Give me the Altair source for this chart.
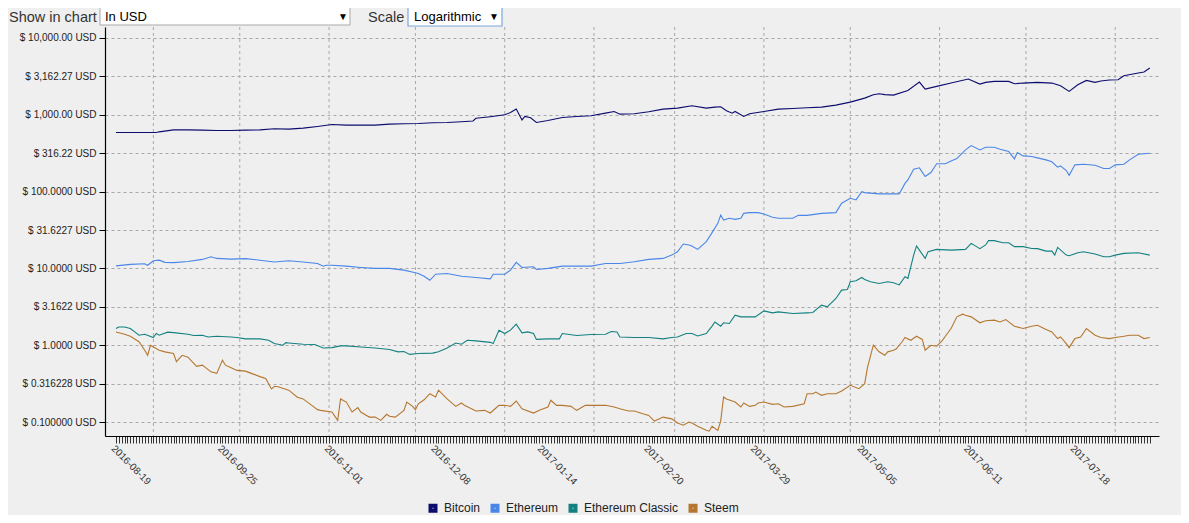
import json
import altair as alt
import pandas as pd

START = "2016-08-19"
coins = ["Bitcoin", "Ethereum", "Ethereum Classic", "Steem"]
colors = ["#0c0c6e", "#4a86e8", "#138181", "#b5772f"]

btc_day = [0, 5, 10, 14, 15, 20, 25, 30, 35, 40, 45, 50, 55, 60, 65, 70, 75, 80, 85, 90, 95, 100, 105, 110,
           115, 120, 124, 125, 130, 135, 137, 139, 141, 142, 144, 146, 150, 155, 160, 165, 170, 173, 175, 180,
           185, 190, 195, 200, 205, 208, 210, 212, 214, 215, 218, 220, 225, 230, 235, 240, 245, 250, 255, 260,
           263, 265, 267, 270, 275, 279, 281, 285, 290, 296, 300, 302, 305, 310, 312, 315, 320, 325, 328, 331,
           334, 337, 340, 342, 345, 348, 350, 355, 357, 359]
btc_usd = [589, 589, 589, 589, 600, 637, 637, 631, 625, 625, 631, 637, 657, 650, 670, 705, 748, 733, 733, 733,
           756, 765, 771, 787, 795, 811, 830, 900, 945, 1000, 1070, 1186, 857, 951, 915, 795, 844, 923, 951, 970,
           1051, 1105, 1020, 1030, 1094, 1186, 1222, 1310, 1222, 1259, 1270, 1127, 1051, 1105, 951, 1030, 1105,
           1186, 1210, 1233, 1259, 1336, 1463, 1649, 1824, 1879, 1830, 1806, 2075, 2669, 2161, 2343, 2588, 2918,
           2512, 2643, 2722, 2722, 2535, 2588, 2643, 2588, 2389, 2015, 2461, 2804, 2643, 2750, 2834, 2862, 3228,
           3492, 3600, 4060]

eth_day = [0, 5, 10, 11, 13, 15, 17, 20, 25, 30, 33, 35, 40, 45, 50, 55, 60, 65, 70, 72, 73, 75, 80, 85, 90, 95,
           100, 104, 105, 107, 109, 111, 115, 120, 125, 130, 131, 135, 137, 139, 141, 145, 146, 150, 155, 160, 165,
           170, 175, 180, 185, 190, 193, 195, 197, 199, 200, 202, 205, 207, 209, 210, 211, 213, 215, 217, 218, 220,
           223, 225, 228, 230, 235, 237, 240, 245, 250, 252, 255, 257, 259, 260, 265, 270, 272, 274, 275, 277, 279,
           281, 283, 285, 288, 290, 292, 295, 297, 300, 302, 305, 307, 310, 312, 313, 315, 318, 320, 323, 325, 327,
           328, 330, 331, 333, 336, 340, 343, 345, 347, 350, 352, 355, 359]
eth_usd = [10.8, 11.3, 11.5, 11.0, 12.6, 12.8, 12.0, 11.9, 12.3, 13.1, 14.2, 13.5, 13.2, 13.4, 12.8, 12.1, 12.6,
           12.1, 11.6, 10.7, 11.0, 11.0, 10.7, 10.3, 10.0, 10.0, 9.5, 8.8, 8.6, 7.9, 7.0, 8.4, 8.6, 7.9, 7.6, 7.3,
           8.4, 8.4, 9.5, 12.0, 10.3, 10.5, 9.7, 10.0, 10.7, 10.7, 10.7, 11.6, 11.6, 12.2, 13.1, 13.5, 14.9, 16.5,
           20.8, 20.2, 19.6, 17.7, 22.3, 29.2, 38.6, 49.6, 42.7, 44.9, 43.5, 44.9, 52.1, 53.2, 53.2, 51.2, 46.3,
           44.9, 44.9, 49.1, 49.1, 52.1, 53.2, 70.5, 81.9, 77.9, 100, 97, 93.3, 93.3, 93.3, 128, 142, 196, 204, 157,
           177, 230, 230, 251, 269, 349, 398, 349, 378, 378, 356, 332, 267, 323, 292, 286, 275, 259, 244, 208, 216,
           188, 163, 223, 227, 220, 200, 200, 223, 227, 259, 307, 316]

etc_day = [0, 1, 3, 5, 7, 8, 10, 13, 14, 15, 18, 20, 25, 27, 30, 32, 35, 40, 42, 45, 50, 53, 55, 58, 59, 60, 65,
           69, 72, 75, 78, 80, 85, 90, 95, 98, 100, 102, 105, 110, 112, 115, 118, 120, 122, 125, 130, 131, 133, 135,
           137, 139, 141, 143, 145, 146, 150, 154, 155, 160, 165, 170, 172, 174, 175, 180, 185, 190, 193, 195, 198,
           200, 202, 205, 207, 208, 210, 211, 213, 215, 217, 220, 222, 225, 228, 230, 235, 240, 242, 245, 247, 250,
           252, 254, 255, 257, 259, 260, 262, 265, 268, 270, 272, 274, 275, 276, 277, 278, 279, 281, 282, 285, 290,
           295, 297, 300, 302, 303, 305, 308, 310, 312, 315, 318, 320, 323, 325, 326, 327, 330, 331, 334, 336, 340,
           343, 345, 347, 350, 355, 359]
etc_usd = [1.65, 1.73, 1.73, 1.65, 1.45, 1.35, 1.39, 1.26, 1.42, 1.35, 1.48, 1.46, 1.39, 1.34, 1.35, 1.28, 1.31,
           1.28, 1.26, 1.21, 1.21, 1.16, 1.05, 1.0, 1.08, 1.07, 1.03, 1.02, 0.92, 0.93, 0.98, 0.98, 0.95, 0.92,
           0.88, 0.82, 0.83, 0.76, 0.78, 0.79, 0.82, 0.92, 1.07, 1.03, 1.16, 1.14, 1.09, 1.05, 1.57, 1.42, 1.57,
           1.88, 1.45, 1.49, 1.42, 1.19, 1.21, 1.21, 1.42, 1.34, 1.38, 1.39, 1.51, 1.49, 1.28, 1.26, 1.26, 1.21,
           1.26, 1.28, 1.42, 1.42, 1.32, 1.42, 1.77, 2.01, 1.77, 1.96, 1.92, 2.46, 2.34, 2.34, 2.34, 2.80, 2.64,
           2.72, 2.59, 2.64, 2.67, 3.32, 3.16, 4.06, 5.22, 5.32, 6.70, 6.90, 7.63, 7.19, 6.70, 6.37, 6.70, 6.5, 6.1,
           7.79, 7.41, 10.5, 14.9, 19.6, 17.3, 13.5, 16.5, 17.7, 17.3, 17.7, 21.2, 18.1, 20.2, 23.0, 23.0, 21.6,
           21.6, 19.2, 19.2, 18.2, 18.1, 16.8, 16.8, 14.9, 18.8, 14.9, 14.6, 16.0, 16.5, 15.4, 14.2, 14.2, 14.9,
           15.7, 16.0, 14.9]

stm_day = [0, 3, 5, 8, 10, 11, 12, 13, 15, 17, 20, 21, 23, 25, 28, 30, 33, 35, 37, 38, 40, 42, 45, 47, 50, 52,
           54, 55, 56, 60, 63, 65, 68, 70, 71, 75, 77, 78, 80, 82, 84, 85, 87, 88, 90, 92, 94, 95, 97, 100, 101,
           103, 104, 105, 107, 109, 111, 112, 115, 118, 120, 121, 125, 128, 130, 133, 135, 137, 139, 141, 145, 147,
           150, 151, 153, 155, 158, 160, 163, 165, 170, 173, 175, 178, 180, 183, 185, 187, 190, 193, 195, 197, 199,
           200, 202, 205, 206, 207, 209, 210, 211, 212, 215, 217, 218, 220, 222, 223, 225, 228, 230, 232, 235, 239,
           240, 242, 243, 245, 247, 250, 252, 255, 258, 260, 261, 263, 265, 267, 268, 270, 271, 272, 273, 274, 276,
           278, 280, 281, 283, 285, 287, 288, 290, 292, 294, 295, 297, 300, 302, 305, 307, 309, 310, 312, 315, 318,
           320, 323, 325, 327, 328, 330, 331, 333, 335, 337, 340, 342, 345, 347, 350, 352, 355, 357, 359]
stm_usd = [1.49, 1.39, 1.31, 1.11, 0.86, 0.74, 1.0, 0.95, 0.86, 0.82, 0.78, 0.61, 0.74, 0.70, 0.53, 0.55, 0.45,
           0.43, 0.64, 0.55, 0.51, 0.47, 0.46, 0.43, 0.39, 0.37, 0.27, 0.29, 0.29, 0.26, 0.21, 0.20, 0.165, 0.145,
           0.142, 0.135, 0.105, 0.20, 0.182, 0.135, 0.154, 0.135, 0.122, 0.116, 0.116, 0.105, 0.126, 0.119, 0.116,
           0.142, 0.182, 0.160, 0.145, 0.173, 0.195, 0.234, 0.212, 0.26, 0.20, 0.160, 0.177, 0.165, 0.139, 0.142,
           0.131, 0.165, 0.165, 0.160, 0.188, 0.149, 0.131, 0.142, 0.157, 0.192, 0.165, 0.165, 0.160, 0.142, 0.165,
           0.165, 0.165, 0.157, 0.149, 0.139, 0.139, 0.128, 0.122, 0.103, 0.116, 0.110, 0.097, 0.091, 0.100, 0.097,
           0.088, 0.078, 0.076, 0.088, 0.078, 0.103, 0.212, 0.20, 0.182, 0.157, 0.177, 0.160, 0.165, 0.177, 0.182,
           0.170, 0.173, 0.157, 0.160, 0.173, 0.234, 0.234, 0.246, 0.223, 0.234, 0.234, 0.254, 0.301, 0.272, 0.316,
           0.52, 1.0, 0.82, 0.74, 0.82, 0.86, 0.90, 1.0, 1.11, 1.26, 1.16, 1.31, 1.19, 0.86, 1.0, 0.97, 1.16, 1.31,
           1.65, 2.34, 2.54, 2.46, 2.34, 1.96, 2.08, 2.12, 2.01, 2.16, 2.01, 1.77, 1.65, 1.77, 1.82, 1.60, 1.49,
           1.22, 1.28, 1.05, 0.93, 1.22, 1.28, 1.65, 1.35, 1.26, 1.22, 1.26, 1.31, 1.35, 1.35, 1.22, 1.26]

label_dates = ["2016-08-19", "2016-09-25", "2016-11-01", "2016-12-08", "2017-01-14", "2017-02-20",
               "2017-03-29", "2017-05-05", "2017-06-11", "2017-07-18"]
month_lines = ["2016-09-01", "2016-10-01", "2016-11-01", "2016-12-01", "2017-01-01", "2017-02-01",
               "2017-03-01", "2017-04-01", "2017-05-01", "2017-06-01", "2017-07-01", "2017-08-01"]
y_ticks = [0.1, 0.316228, 1, 3.16228, 10, 31.6228, 100, 316.228, 1000, 3162.28, 10000]
y_labels = ["$ 0.100000 USD", "$ 0.316228 USD", "$ 1.0000 USD", "$ 3.1622 USD", "$ 10.0000 USD",
            "$ 31.6227 USD", "$ 100.0000 USD", "$ 316.22 USD", "$ 1,000.00 USD", "$ 3,162.27 USD",
            "$ 10,000.00 USD"]
n_days = 360

t0 = pd.Timestamp(START)
rows = []
for name, days, vals in [("Bitcoin", btc_day, btc_usd), ("Ethereum", eth_day, eth_usd),
                         ("Ethereum Classic", etc_day, etc_usd), ("Steem", stm_day, stm_usd)]:
    for d, v in zip(days, vals):
        rows.append({"coin": name, "date": (t0 + pd.Timedelta(days=d)).strftime("%Y-%m-%d"), "usd": v})
df = pd.DataFrame(rows)


def ms(ts):
    return int(pd.Timestamp(ts, tz="UTC").value // 10**6)


DAY = 86400000
t0ms = ms(START)
tick_ms = [t0ms + i * DAY for i in range(n_days)]
x_domain = [t0ms - 3.8 * DAY, t0ms + 362.2 * DAY]

FONT = "Liberation Sans"
x_label_expr = ("indexof(" + json.dumps(label_dates) + ", utcFormat(datum.value, '%Y-%m-%d')) >= 0 ? "
                "utcFormat(datum.value, '%Y-%m-%d') : ''")
y_label_expr = json.dumps(y_labels) + "[round(log(datum.value) / LN10 * 2) + 2]"


def x_enc():
    return alt.X("date:T", title=None,
                 scale=alt.Scale(type="utc", domain=x_domain),
                 axis=alt.Axis(values=tick_ms, labelExpr=x_label_expr, labelAngle=45, labelAlign="left",
                               labelBaseline="top", labelOverlap=False, labelFlush=False, labelBound=False,
                               labelPadding=0, tickSize=7, tickColor="#333", tickWidth=1, domainColor="#000",
                               domainWidth=1.2, grid=False, labelFont=FONT, labelFontSize=10,
                               labelColor="#333"))


vgrid = alt.Chart(pd.DataFrame({"date": month_lines})).mark_rule(
    color="#a8a8a8", strokeDash=[3, 3], strokeWidth=1
).encode(x=x_enc())

lines = alt.Chart(df).mark_line(strokeWidth=1.1).encode(
    x=x_enc(),
    y=alt.Y("usd:Q", title=None,
            scale=alt.Scale(type="log", domain=[0.0658, 13900]),
            axis=alt.Axis(values=y_ticks, labelExpr=y_label_expr, grid=True, gridDash=[3, 3],
                          gridColor="#a8a8a8", tickSize=6, tickColor="#000", domainColor="#000",
                          domainWidth=1.2, labelFont=FONT, labelFontSize=10, labelColor="#222",
                          labelPadding=3)),
    color=alt.Color("coin:N", scale=alt.Scale(domain=coins, range=colors),
                    legend=alt.Legend(title=None, orient="none", legendX=322, legendY=475,
                                      direction="horizontal", symbolType="square", symbolSize=25,
                                      symbolStrokeWidth=4, labelFont=FONT, labelFontSize=12,
                                      labelColor="#222", columnPadding=3, labelOffset=5, padding=0)),
)

ui = pd.DataFrame({"k": [0]})
FONT_UI = "Liberation Sans"
box1 = alt.Chart(ui).mark_rect(fill="#ffffff", stroke="#a9a9a9", strokeWidth=1).encode(
    x=alt.value(-5), x2=alt.value(245), y=alt.value(-20), y2=alt.value(-2))
box2 = alt.Chart(ui).mark_rect(fill="#ffffff", stroke="#7aa7e0", strokeWidth=1.2).encode(
    x=alt.value(303), x2=alt.value(397), y=alt.value(-20), y2=alt.value(-1))


def ui_text(txt, x, y, size, color="#222"):
    return alt.Chart(ui).mark_text(text=txt, align="left", baseline="alphabetic", font=FONT_UI,
                                   fontSize=size, color=color).encode(x=alt.value(x), y=alt.value(y))


texts = [
    ui_text("Show in chart", -96, -5, 14.5, "#333"),
    ui_text("In USD", 0, -6, 13, "#000"),
    ui_text("▼", 233, -7, 10, "#000"),
    ui_text("Scale", 263, -5, 14.5, "#333"),
    ui_text("Logarithmic", 309, -6, 13, "#000"),
    ui_text("▼", 384, -7, 10, "#000"),
]

chart = alt.layer(vgrid, lines, box1, box2, *texts).properties(
    width=1054, height=409,
    autosize=alt.AutoSizeParams(type="none"),
    padding={"left": 97, "top": 19, "right": 22, "bottom": 79},
    background="#efefef",
).configure_view(strokeWidth=0)

chart.save("out.html", embed_options={"renderer": "svg", "actions": False})
